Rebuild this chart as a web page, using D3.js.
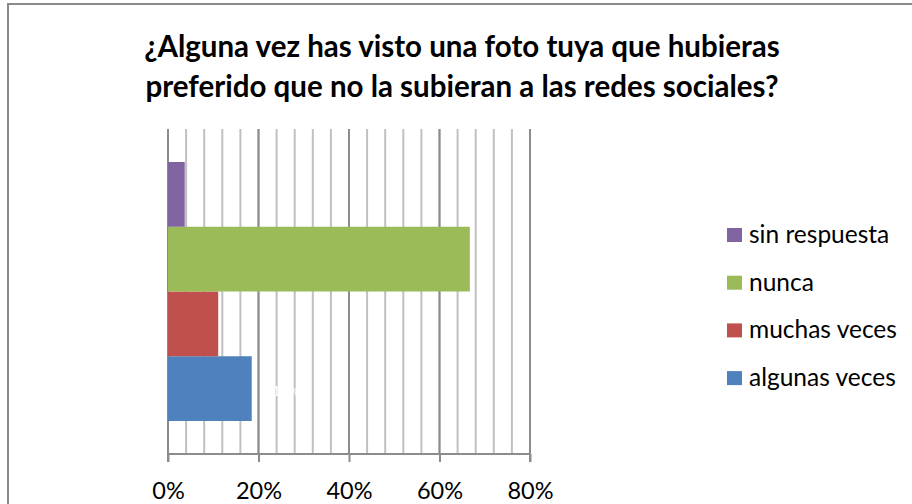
<!DOCTYPE html>
<html><head><meta charset="utf-8">
<script src="https://cdn.jsdelivr.net/npm/d3@7"></script>
<style>body{margin:0;background:#fff}svg{display:block}</style>
</head><body><svg id="c" width="912" height="504"></svg>
<script>
const titleLines = ["¿Alguna vez has visto una foto tuya que hubieras", "preferido que no la subieran a las redes sociales?"];
const series = ["algunas veces", "muchas veces", "nunca", "sin respuesta"];
const values = [0.185, 0.111, 0.667, 0.037];
const colors = ["#4f81bd", "#c0504d", "#9bbb59", "#8064a2"];
const majorTicks = [0, 0.2, 0.4, 0.6, 0.8];
const minorTicks = d3.range(0, 0.8001, 0.04);

const svg = d3.select("#c");
const font = "Lato, 'Open Sans', sans-serif";

// outer chart border (cropped at right/bottom)
svg.append("rect").attr("x", 8).attr("y", 4).attr("width", 1000).attr("height", 1000)
  .attr("fill", "#fff").attr("stroke", "#8a8a8a").attr("stroke-width", 2);

// title
svg.append("g").selectAll("text").data(titleLines).join("text")
  .attr("x", 462).attr("y", (d, i) => 57 + i * 40)
  .attr("text-anchor", "middle").attr("font-family", font).attr("font-weight", "bold")
  .attr("font-size", 29.5).attr("fill", "#000").text(d => d);

const x = d3.scaleLinear().domain([0, 0.8]).range([168, 530]);
const plotTop = 129, plotBottom = 454;
const y = d3.scaleBand().domain(series.slice().reverse()).range([162, 421]).padding(0);

// minor gridlines
svg.append("g").selectAll("line").data(minorTicks).join("line")
  .attr("x1", d => x(d)).attr("x2", d => x(d)).attr("y1", plotTop).attr("y2", plotBottom)
  .attr("stroke", "#c0c0c0").attr("stroke-width", 2);
// major gridlines
svg.append("g").selectAll("line").data(majorTicks).join("line")
  .attr("x1", d => x(d)).attr("x2", d => x(d)).attr("y1", plotTop).attr("y2", plotBottom)
  .attr("stroke", "#8c8c8c").attr("stroke-width", 2);

// bars
svg.append("g").selectAll("rect").data(series).join("rect")
  .attr("x", x(0)).attr("y", d => y(d))
  .attr("width", (d, i) => x(values[i]) - x(0)).attr("height", y.bandwidth())
  .attr("fill", (d, i) => colors[i]);

// faint white data label
svg.append("text").attr("x", 286).attr("y", 396).attr("text-anchor", "middle")
  .attr("font-family", font).attr("font-size", 14).attr("fill", "#fff")
  .text(d3.format(".0%")(values[0]));

// x axis
const axis = d3.axisBottom(x).tickValues(majorTicks).tickFormat(d3.format(".0%")).tickSize(8).tickPadding(20);
const ax = svg.append("g").attr("transform", `translate(0,${plotBottom})`).call(axis);
ax.select(".domain").attr("stroke", "#8c8c8c").attr("stroke-width", 2).attr("d", `M${x(0)},8V0H${x(0.8)}V8`);
ax.selectAll(".tick line").attr("stroke", "#8c8c8c").attr("stroke-width", 2);
ax.selectAll(".tick text").attr("font-family", font).attr("font-size", 23.5).attr("fill", "#000");

// legend (reverse order, top = sin respuesta)
const legendOrder = series.slice().reverse();
const lg = svg.append("g").selectAll("g").data(legendOrder).join("g")
  .attr("transform", (d, i) => `translate(727,${228 + i * 47.7})`);
lg.append("rect").attr("width", 15).attr("height", 14)
  .attr("fill", d => colors[series.indexOf(d)]);
lg.append("text").attr("x", 22).attr("y", 15).attr("font-family", font).attr("font-size", 24.5)
  .attr("fill", "#000").text(d => d);
</script></body></html>
